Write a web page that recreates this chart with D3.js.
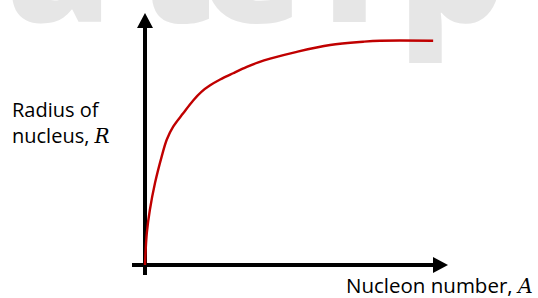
<!DOCTYPE html>
<html>
<head>
<meta charset="utf-8">
<script src="https://cdn.jsdelivr.net/npm/d3@7"></script>
<style>
  body { margin: 0; background: #fff; }
  svg { display: block; }
</style>
</head>
<body>
<div id="chart"></div>
<script>
// curve (arbitrary units, 0-100 on both axes)
const nucleonNumber = [0, 0.6, 1.6, 3.3, 5.5, 7.2, 9.3, 12.6, 15.9, 18.7, 21.5, 24.8, 29.1, 33.6, 37.4, 41.3, 50.1, 61.1, 72.0, 77.6, 95.1];
const radius = [0, 12.7, 21.8, 32.5, 43.0, 49.8, 54.9, 60.2, 65.3, 68.8, 71.3, 73.6, 76.1, 78.6, 80.4, 81.9, 84.6, 87.3, 88.6, 89.0, 89.0];

const yLabelLines = ['Radius of', 'nucleus, '];
const yLabelVar = 'R';
const xLabelText = 'Nucleon number, ';
const xLabelVar = 'A';

// faded watermark letters, only their bottoms show
const watermarkLetters = ['a', 't', 'e', 'r', 'p'];
const watermarkX = [6, 136, 200, 322, 398];

const W = 538, H = 298;
const svg = d3.select('#chart').append('svg')
  .attr('width', W)
  .attr('height', H);

// watermark
svg.append('g')
  .selectAll('text')
  .data(watermarkLetters)
  .enter().append('text')
  .attr('x', (d, i) => watermarkX[i])
  .attr('y', 22)
  .style('font-family', '"Open Sans", sans-serif')
  .style('font-weight', '800')
  .style('font-size', '170px')
  .style('fill', '#e6e6e6')
  .text(d => d);

const x = d3.scaleLinear().domain([0, 100]).range([145, 448]);
const y = d3.scaleLinear().domain([0, 100]).range([265, 13]);

const arrowLen = 15, arrowHalf = 8;

// y axis
svg.append('line')
  .attr('x1', x(0)).attr('x2', x(0))
  .attr('y1', 275).attr('y2', y(100) + arrowLen - 1)
  .style('stroke', '#000').style('stroke-width', 4);
svg.append('path')
  .attr('d', `M${x(0)},${y(100)} L${x(0) - arrowHalf},${y(100) + arrowLen} L${x(0) + arrowHalf},${y(100) + arrowLen} Z`)
  .style('fill', '#000');

// x axis
svg.append('line')
  .attr('x1', 132).attr('x2', x(100) - arrowLen + 1)
  .attr('y1', y(0)).attr('y2', y(0))
  .style('stroke', '#000').style('stroke-width', 4);
svg.append('path')
  .attr('d', `M${x(100)},${y(0)} L${x(100) - arrowLen},${y(0) - arrowHalf} L${x(100) - arrowLen},${y(0) + arrowHalf} Z`)
  .style('fill', '#000');

// the curve
const line = d3.line()
  .x((d, i) => x(nucleonNumber[i]))
  .y(d => y(d))
  .curve(d3.curveCatmullRom.alpha(0.5));

svg.append('path')
  .datum(radius)
  .attr('d', line)
  .style('fill', 'none')
  .style('stroke', '#c00000')
  .style('stroke-width', 2.4);

// labels
const yLabel = svg.append('text')
  .attr('x', 12)
  .attr('y', 117)
  .style('font-family', '"Open Sans", sans-serif')
  .style('font-size', '20px')
  .style('fill', '#000');
yLabel.append('tspan').attr('x', 12).attr('dy', 0).text(yLabelLines[0]);
yLabel.append('tspan').attr('x', 12).attr('dy', 26).text(yLabelLines[1]);
yLabel.append('tspan')
  .style('font-family', '"DejaVu Serif", serif')
  .style('font-style', 'italic')
  .text(yLabelVar);

const xLabel = svg.append('text')
  .attr('x', 346)
  .attr('y', 293)
  .style('font-family', '"Open Sans", sans-serif')
  .style('font-size', '20.5px')
  .style('fill', '#000');
xLabel.append('tspan').text(xLabelText);
xLabel.append('tspan')
  .style('font-family', '"DejaVu Serif", serif')
  .style('font-style', 'italic')
  .text(xLabelVar);
</script>
</body>
</html>
